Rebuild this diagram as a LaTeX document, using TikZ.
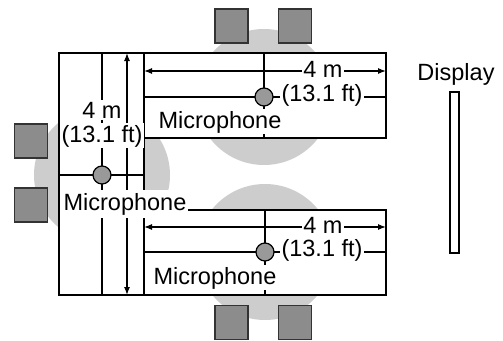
\documentclass[tikz,border=0pt]{standalone}
\usepackage{fontspec}
\setmainfont{Liberation Sans}
\usetikzlibrary{arrows.meta}
\definecolor{zone}{HTML}{CDCDCD}
\definecolor{spk}{HTML}{8C8C8C}
\definecolor{micfill}{HTML}{999999}
\definecolor{spkline}{HTML}{333333}
\begin{document}
\begin{tikzpicture}[x=1pt,y=-1pt,line width=1.2pt,
  lbl/.style={font=\fontsize{23.5}{27}\selectfont,inner sep=1.5pt,fill=white,anchor=base},
  plain/.style={font=\fontsize{23.5}{27}\selectfont,inner sep=0pt,anchor=base},
  mic/.style={circle,draw,fill=micfill,minimum size=18pt,inner sep=0pt,line width=1.2pt},
  spkbox/.style={draw=spkline,fill=spk,minimum width=33pt,minimum height=34pt,inner sep=0pt,line width=1.2pt},
  dim/.style={{Latex[length=8pt,width=6pt]}-{Latex[length=8pt,width=6pt]}}]
\useasboundingbox (0,0) rectangle (503,340);
% pickup zones
\fill[zone] (264,97) circle[radius=68];
\fill[zone] (102,175) circle[radius=68];
\fill[zone] (265,252) circle[radius=68];
% speakers
\node[spkbox] (s1) at (231.5,26) {};
\node[spkbox] (s2) at (295,26) {};
\node[spkbox] (s3) at (31,141) {};
\node[spkbox] (s4) at (31,205) {};
\node[spkbox] (s5) at (231.5,322.5) {};
\node[spkbox] (s6) at (295,322.5) {};
% boxes (tables)
\draw[fill=white] (59,53) rectangle (144,295);
\draw[fill=white] (144,53) rectangle (386,138);
\draw[fill=white] (144,210) rectangle (386,295);
% coordinates
\coordinate (ta1) at (144,71);  \coordinate (ta2) at (386,71);
\coordinate (tl1) at (144,97);  \coordinate (tl2) at (386,97);
\coordinate (tv1) at (264,53);  \coordinate (tv2) at (264,138);
\coordinate (ba1) at (144,227); \coordinate (ba2) at (386,227);
\coordinate (bl1) at (144,252); \coordinate (bl2) at (386,252);
\coordinate (bv1) at (265,210); \coordinate (bv2) at (265,295);
\coordinate (la1) at (127,53);  \coordinate (la2) at (127,295);
\coordinate (lv1) at (102,53);  \coordinate (lv2) at (102,295);
\coordinate (lh1) at (59,175);  \coordinate (lh2) at (144,175);
% lines
\draw (tl1) -- (tl2);
\draw (tv1) -- (tv2);
\draw[dim] (ta1) -- (ta2);
\draw (bl1) -- (bl2);
\draw (bv1) -- (bv2);
\draw[dim] (ba1) -- (ba2);
\draw (lv1) -- (lv2);
\draw (lh1) -- (lh2);
\draw[dim] (la1) -- (la2);
% microphones
\node[mic] (m1) at (264,97) {};
\node[mic] (m2) at (102,175) {};
\node[mic] (m3) at (265,252) {};
% labels
\node[lbl] (t4m) at (323,77) {4 m};
\node[lbl] (tft) at (322,101) {(13.1 ft)};
\node[lbl] (tmic) at (220,128) {Microphone};
\node[lbl] (b4m) at (323,233) {4 m};
\node[lbl] (bft) at (322,256) {(13.1 ft)};
\node[lbl] (bmic) at (215,284) {Microphone};
\node[lbl] (l4m) at (102,118) {4 m};
\node[lbl] (lft) at (102,142) {(13.1 ft)};
\node[lbl,inner ysep=3pt] (lmic) at (125,210) {Microphone};
% display
\node[draw,fill=white,minimum width=9pt,minimum height=161pt,inner sep=0pt] (disp) at (454.5,172.5) {};
\node[plain] (dlbl) at (456,80) {Display};
\end{tikzpicture}
\end{document}
